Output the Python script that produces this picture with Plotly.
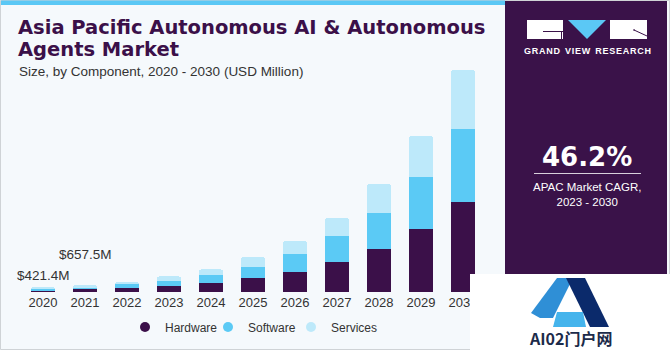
import plotly.graph_objects as go

# ---- data (USD Million) ----
years = [str(y) for y in range(2020, 2031)]
hardware = [160, 250, 410, 600, 885, 1360, 1930, 2880, 4115, 5985, 8550]
software = [140, 220, 320, 475, 760, 1045, 1680, 2440, 3420, 4910, 6935]
services = [121.4, 187.5, 220, 410, 505, 890, 1235, 1710, 2725, 3925, 5605]
label_years = ["2020", "2021"]
label_texts = ["$421.4M", "$657.5M"]
cagr_text = "46.2%"

W, H = 670, 350
L, R, T, B = 22, 186, 60, 58
PW, PH = W - L - R, H - T - B


def px(x):
    return (x - L) / PW


def py(y):
    return (H - B - y) / PH


C_HW = "#3b1049"
C_SW = "#5bcaf5"
C_SV = "#bde9fa"
BG = "#f5f9fc"
PANEL = "#3a1249"

fig = go.Figure()
for name, vals, col in [("Hardware", hardware, C_HW),
                        ("Software", software, C_SW),
                        ("Services", services, C_SV)]:
    fig.add_trace(go.Bar(x=years, y=vals, name=name, marker_color=col,
                         marker_line_width=0, showlegend=False))
for name, col in [("Hardware", C_HW), ("Software", C_SW), ("Services", C_SV),
                  (" ", "rgba(0,0,0,0)")]:
    fig.add_trace(go.Scatter(x=[years[0]], y=[None], mode="markers", name=name,
                             marker=dict(color=col, size=10, symbol="circle"),
                             showlegend=True))

totals = [h + s + v for h, s, v in zip(hardware, software, services)]
shifts = [3, 21]
for yr, txt, sh in zip(label_years, label_texts, shifts):
    i = years.index(yr)
    fig.add_annotation(x=i, y=totals[i], xref="x", yref="y", text=txt, showarrow=False,
                       yanchor="bottom", yshift=sh,
                       font=dict(size=13.5, color="#333333", family="Liberation Sans"))

shapes = []
# card border
shapes.append(dict(type="rect", xref="paper", yref="paper",
                   x0=px(0.5), x1=px(669.5), y0=py(349.5), y1=py(0.5),
                   line=dict(color="#cfd3d6", width=1), fillcolor="rgba(0,0,0,0)", layer="below"))
# blue top strip
shapes.append(dict(type="rect", xref="paper", yref="paper",
                   x0=px(1), x1=px(505), y0=py(5), y1=py(0.5),
                   line=dict(width=0), fillcolor="#5bc8f5", layer="below"))
# right panel
shapes.append(dict(type="rect", xref="paper", yref="paper",
                   x0=px(505), x1=px(667), y0=py(350), y1=py(1),
                   line=dict(width=0), fillcolor=PANEL, layer="above"))
# logo blocks
shapes.append(dict(type="rect", xref="paper", yref="paper",
                   x0=px(527), x1=px(563), y0=py(39), y1=py(20),
                   line=dict(width=0), fillcolor="white", layer="above"))
shapes.append(dict(type="rect", xref="paper", yref="paper",
                   x0=px(543), x1=px(563), y0=py(32), y1=py(31),
                   line=dict(width=0), fillcolor=PANEL, layer="above"))
shapes.append(dict(type="rect", xref="paper", yref="paper",
                   x0=px(561), x1=px(562), y0=py(39), y1=py(31),
                   line=dict(width=0), fillcolor=PANEL, layer="above"))
shapes.append(dict(type="path", xref="paper", yref="paper",
                   path=f"M {px(568)} {py(20)} L {px(606)} {py(20)} L {px(587)} {py(39)} Z",
                   line=dict(width=0), fillcolor="#5bc8f5", layer="above"))
shapes.append(dict(type="rect", xref="paper", yref="paper",
                   x0=px(610), x1=px(647), y0=py(39), y1=py(20),
                   line=dict(width=0), fillcolor="white", layer="above"))
shapes.append(dict(type="line", xref="paper", yref="paper",
                   x0=px(634), x1=px(647), y0=py(30), y1=py(36),
                   line=dict(color=PANEL, width=1), layer="above"))
shapes.append(dict(type="line", xref="paper", yref="paper",
                   x0=px(634), x1=px(634), y0=py(29), y1=py(31),
                   line=dict(color=PANEL, width=1), layer="above"))
# divider line
shapes.append(dict(type="line", xref="paper", yref="paper",
                   x0=px(534), x1=px(641), y0=py(173.5), y1=py(173.5),
                   line=dict(color="#d8d0dc", width=1), layer="above"))
# watermark box
shapes.append(dict(type="rect", xref="paper", yref="paper",
                   x0=px(470), x1=px(670), y0=py(350), y1=py(274),
                   line=dict(width=0), fillcolor="white", layer="above"))
# watermark A logo
shapes.append(dict(type="path", xref="paper", yref="paper",
                   path=(f"M {px(531)} {py(313)} L {px(557)} {py(278)} L {px(573)} {py(278)} "
                         f"L {px(553)} {py(318)} L {px(540)} {py(318)} Z"),
                   line=dict(width=0), fillcolor="#2f8fd6", layer="above"))
shapes.append(dict(type="path", xref="paper", yref="paper",
                   path=(f"M {px(566)} {py(278)} L {px(585)} {py(278)} L {px(609)} {py(327)} "
                         f"L {px(590)} {py(327)} Z"),
                   line=dict(width=0), fillcolor="#0b2a6b", layer="above"))
shapes.append(dict(type="path", xref="paper", yref="paper",
                   path=(f"M {px(553)} {py(327)} L {px(557)} {py(312)} L {px(583)} {py(312)} "
                         f"L {px(586)} {py(327)} Z"),
                   line=dict(width=0), fillcolor="#45b4ec", layer="above"))

ann = [
    dict(x=px(16), y=py(27), xanchor="left", yanchor="middle",
         text="<b>Asia Pacific Autonomous AI &amp; Autonomous</b>",
         font=dict(size=19.5, color=C_HW, family="DejaVu Sans")),
    dict(x=px(16), y=py(50), xanchor="left", yanchor="middle",
         text="<b>Agents Market</b>",
         font=dict(size=19.5, color=C_HW, family="DejaVu Sans")),
    dict(x=px(17), y=py(71), xanchor="left", yanchor="middle",
         text="Size, by Component, 2020 - 2030 (USD Million)",
         font=dict(size=13.5, color="#333333", family="Liberation Sans")),
    dict(x=px(587), y=py(51), xanchor="center", yanchor="middle",
         text="<b>G\u200aR\u200aA\u200aN\u200aD  V\u200aI\u200aE\u200aW  R\u200aE\u200aS\u200aE\u200aA\u200aR\u200aC\u200aH</b>",
         font=dict(size=9, color="white", family="Liberation Sans")),
    dict(x=px(587), y=py(157), xanchor="center", yanchor="middle",
         text="<b>" + cagr_text + "</b>",
         font=dict(size=26, color="white", family="DejaVu Sans")),
    dict(x=px(587), y=py(194), xanchor="center", yanchor="middle",
         text="APAC Market CAGR,<br>2023 - 2030",
         font=dict(size=11.5, color="white", family="Liberation Sans")),
    dict(x=px(570), y=py(338), xanchor="center", yanchor="middle",
         text="<b>AI02门户网</b>",
         font=dict(size=16, color="#1c2b4a", family="Noto Sans CJK SC")),
]
for a in ann:
    fig.add_annotation(xref="paper", yref="paper", showarrow=False, **a)

fig.update_layout(
    width=W, height=H,
    margin=dict(l=L, r=R, t=T, b=B, autoexpand=False),
    paper_bgcolor=BG, plot_bgcolor="rgba(0,0,0,0)",
    barmode="stack", bargap=0.43, barcornerradius=2,
    shapes=shapes,
    font=dict(family="Liberation Sans", color="#333333"),
    showlegend=True,
    legend=dict(orientation="h", x=px(125), xanchor="left", y=py(327), yanchor="middle",
                font=dict(size=12, color="#333333"), itemwidth=30,
                entrywidth=38, entrywidthmode="pixels",
                bgcolor="rgba(0,0,0,0)", traceorder="normal"),
    xaxis=dict(type="category", range=[-0.5, 10.5], showgrid=False, showline=False,
               zeroline=False, ticks="", ticklabelstandoff=1, automargin=False,
               tickfont=dict(size=13, color="#333333")),
    yaxis=dict(range=[0, 22040], visible=False, showgrid=False, zeroline=False,
               automargin=False),
)

fig.write_html("out.html")
